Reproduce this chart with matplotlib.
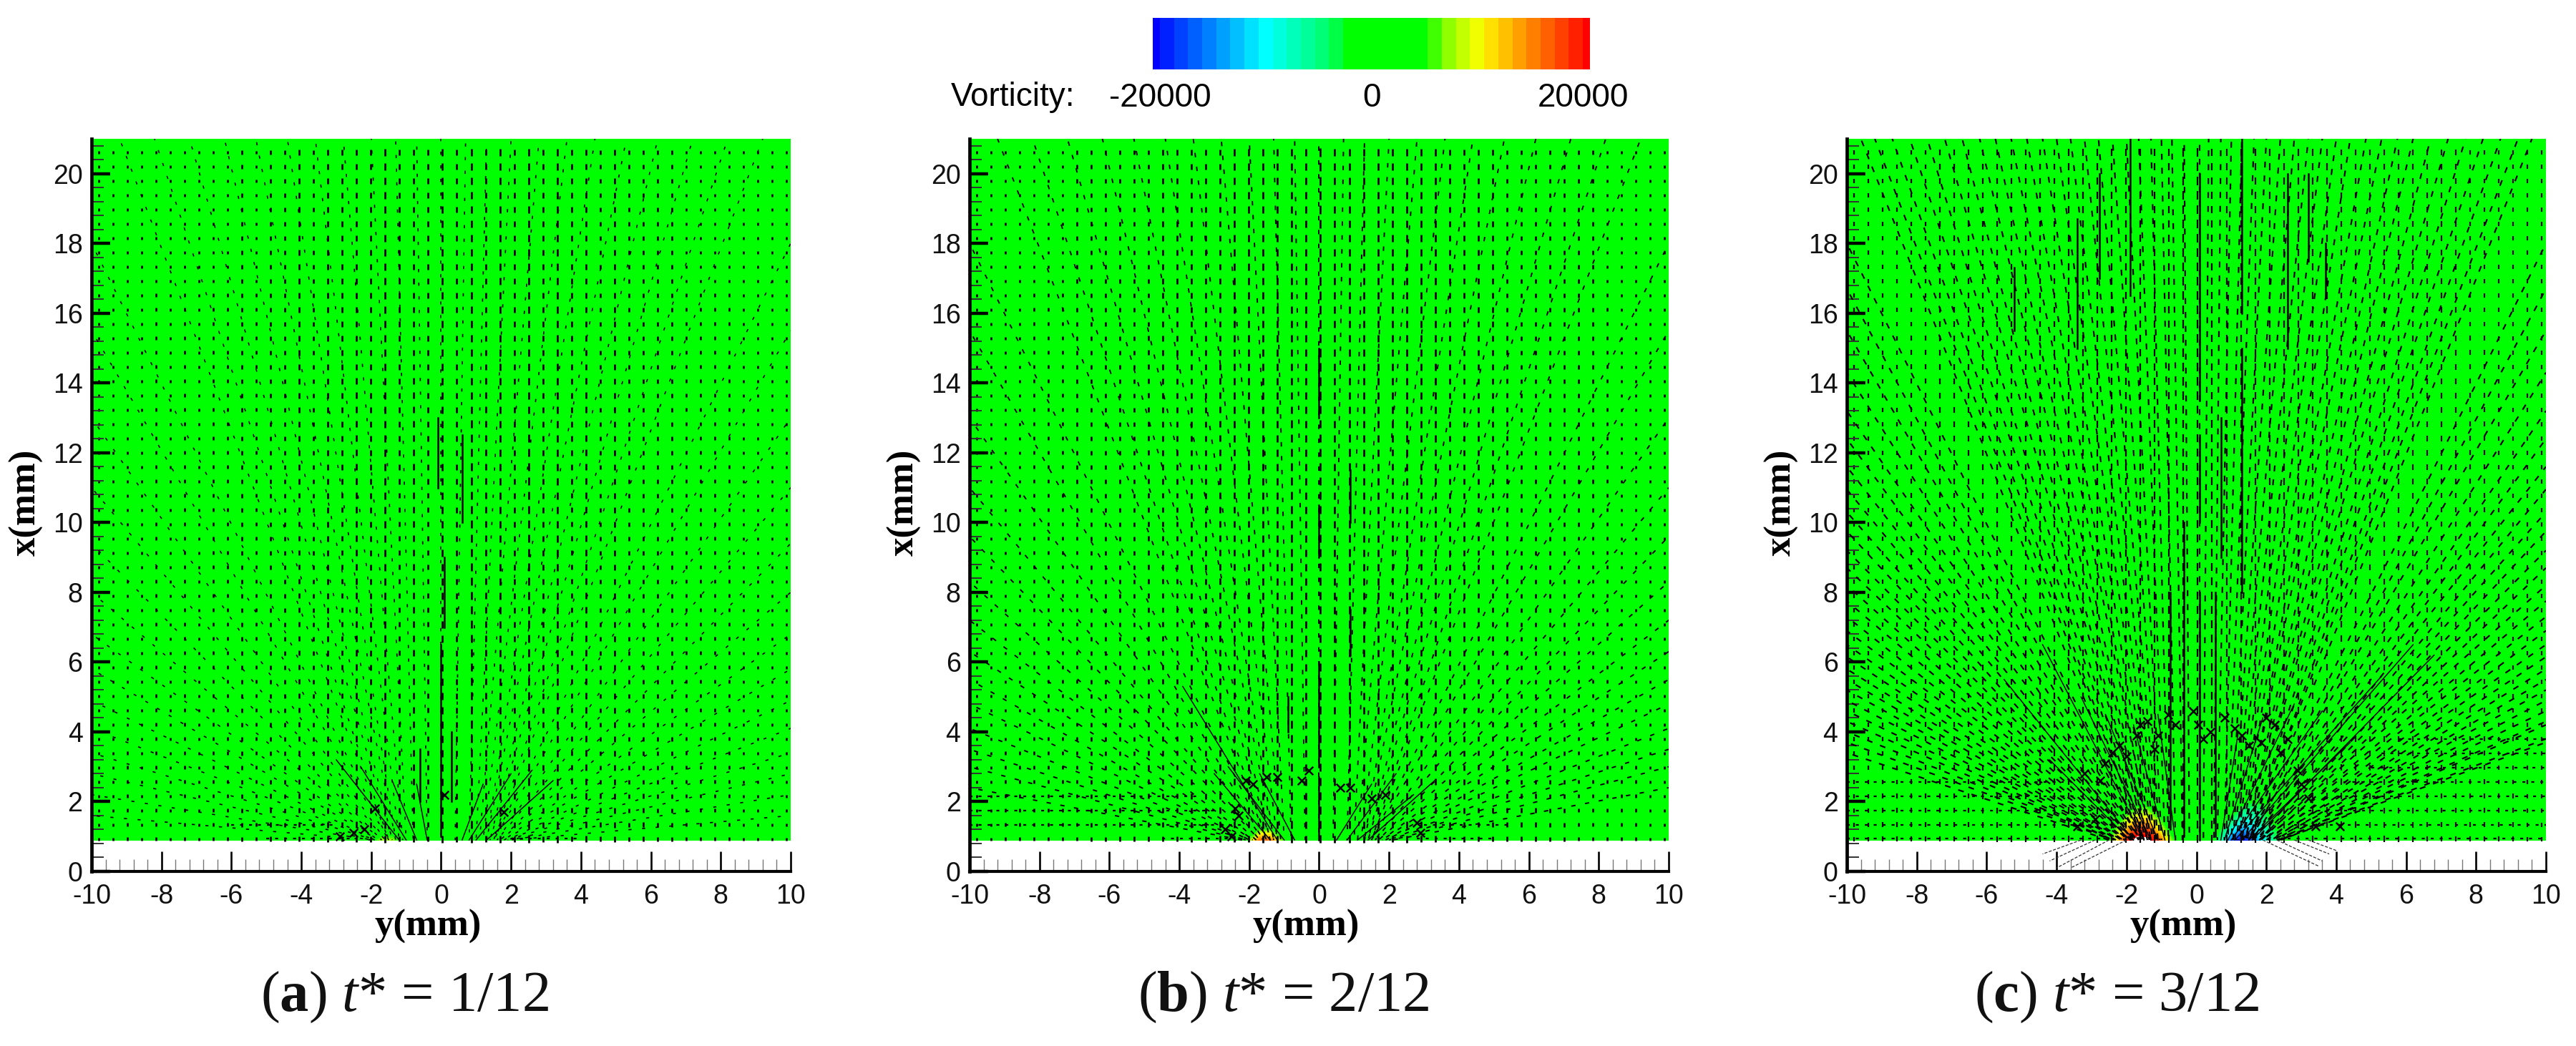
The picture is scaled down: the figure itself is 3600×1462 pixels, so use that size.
import numpy as np
import matplotlib
matplotlib.use("Agg")
import matplotlib.pyplot as plt
from matplotlib.colors import ListedColormap, BoundaryNorm

# ---------- colour scale ----------
band_edges = [-20667, -20000, -18667, -17333, -16000, -14667, -13333, -12000, -10667, -9333, -8000,
              -6667, -5333, -4000, -2667, 5333, 6667, 8000, 9333, 10667, 12000, 13333, 14667, 16000,
              17333, 18667, 20000, 20667]
band_colors = ["#0000ff", "#0020ff", "#0040ff", "#0060ff", "#0080ff", "#00a0ff", "#00c0ff", "#00e0ff",
               "#00ffff", "#00ffdd", "#00ffbb", "#00ff99", "#00ff77", "#00ff44", "#00ff00",
               "#40ff00", "#90ff00", "#c4ff00", "#f0ff00", "#ffe000", "#ffc000", "#ffa000", "#ff8000",
               "#ff6000", "#ff4000", "#ff2000", "#ff0000"]
legend_ticks = [-20000, 0, 20000]
legend_labels = ["-20000", "0", "20000"]

# ---------- axes ----------
y_major = [-10, -8, -6, -4, -2, 0, 2, 4, 6, 8, 10]
x_major = [0, 2, 4, 6, 8, 10, 12, 14, 16, 18, 20]
panel_names = ["a", "b", "c"]
panel_times = ["1/12", "2/12", "3/12"]

# ---------- vorticity read near the slot: rows x (mm), columns y (mm) ----------
vort_y = [-10, -2.6, -2.3, -2.0, -1.7, -1.4, -1.1, -0.8, -0.5, 0.4, 0.7, 1.0, 1.3, 1.6, 1.9, 2.2, 2.5, 10]
vort_x = [0.9, 1.2, 1.5, 1.8, 2.1, 21]
vort_a = [[0, 0, 0, 3000, 7500, 7500, 3000, 0, 0, 0, 0, 0, 0, 0, 0, 0, 0, 0],
          [0, 0, 0, 0, 0, 0, 0, 0, 0, 0, 0, 0, 0, 0, 0, 0, 0, 0],
          [0, 0, 0, 0, 0, 0, 0, 0, 0, 0, 0, 0, 0, 0, 0, 0, 0, 0],
          [0, 0, 0, 0, 0, 0, 0, 0, 0, 0, 0, 0, 0, 0, 0, 0, 0, 0],
          [0, 0, 0, 0, 0, 0, 0, 0, 0, 0, 0, 0, 0, 0, 0, 0, 0, 0],
          [0, 0, 0, 0, 0, 0, 0, 0, 0, 0, 0, 0, 0, 0, 0, 0, 0, 0]]
vort_b = [[0, 0, 0, 6000, 16000, 16000, 7000, 0, 0, 0, 0, 0, -1500, -2000, -1000, 0, 0, 0],
          [0, 0, 0, 2000, 5500, 5500, 2000, 0, 0, 0, 0, 0, 0, 0, 0, 0, 0, 0],
          [0, 0, 0, 0, 0, 0, 0, 0, 0, 0, 0, 0, 0, 0, 0, 0, 0, 0],
          [0, 0, 0, 0, 0, 0, 0, 0, 0, 0, 0, 0, 0, 0, 0, 0, 0, 0],
          [0, 0, 0, 0, 0, 0, 0, 0, 0, 0, 0, 0, 0, 0, 0, 0, 0, 0],
          [0, 0, 0, 0, 0, 0, 0, 0, 0, 0, 0, 0, 0, 0, 0, 0, 0, 0]]
vort_c = [[0, 2000, 10000, 19000, 22000, 22000, 18000, 9000, 1500, 0, -6000, -17000, -21000, -17000, -10000, -5500, -1500, 0],
          [0, 500, 6000, 13000, 18500, 18000, 11000, 4500, 500, 0, -2800, -9000, -14000, -12000, -8000, -3500, -500, 0],
          [0, 0, 1500, 7500, 11000, 11000, 6500, 1500, 0, 0, -500, -3500, -8000, -8000, -4500, -1500, 0, 0],
          [0, 0, 0, 2500, 5800, 5800, 2500, 0, 0, 0, 0, -500, -3500, -5000, -3500, -500, 0, 0],
          [0, 0, 0, 0, 1000, 1000, 0, 0, 0, 0, 0, 0, 0, -1000, -1000, 0, 0, 0],
          [0, 0, 0, 0, 0, 0, 0, 0, 0, 0, 0, 0, 0, 0, 0, 0, 0, 0]]

# ---------- vector length on the measurement lattice, per column (mm), y = -9.8 ... 9.9 ----------
a_col_len = [.08, .08, .09, .08, .10, .08, .10, .08, .10, .10, .12, .10, .13, .12, .15, .13, .16, .15,
             .18, .16, .20, .15, .18, .15, .20, .16, .22, .18, .20, .16, .22, .16, .20, .15, .18, .13,
             .16, .12, .13, .12, .12, .10, .10, .10, .10, .08, .08, .08, .08]
b_col_len = [.08, .08, .09, .09, .10, .10, .10, .11, .12, .12, .13, .13, .14, .15, .15, .16, .16, .18,
             .19, .19, .20, .21, .22, .21, .23, .21, .22, .21, .21, .19, .20, .19, .19, .16, .16, .15,
             .15, .14, .13, .13, .12, .12, .11, .11, .10, .09, .09, .08, .08]
c_col_len = [.12, .12, .13, .13, .14, .14, .15, .15, .15, .16, .16, .17, .17, .18, .18, .19, .19, .20,
             .20, .21, .21, .22, .22, .23, .23, .22, .22, .22, .21, .21, .20, .20, .19, .19, .18, .18,
             .17, .17, .16, .16, .15, .15, .15, .14, .14, .13, .13, .12, .12]

# ---------- rays of aligned vectors: slot position, end y, end x (mm) ----------
a_ray_base = [-2.0, -2.0, -2.0, -1.9, -1.9, -1.9, -1.8, -1.8, -1.7, -1.7, -1.6, -1.6, -1.5, -1.5,
              -1.5, -1.5, -1.4, -1.4, -1.3, -1.3, -1.2, -1.1, -1.0, -0.8, -0.4, 0, 0.4, 0.8, 1.0, 1.1,
              1.2, 1.3, 1.3, 1.4, 1.4, 1.5, 1.5,
              1.5, 1.5, 1.6, 1.6, 1.7, 1.7, 1.8, 1.8, 1.9, 1.9, 1.9, 2.0, 2.0, 2.0]
a_ray_end_y = [-10, -10, -10, -10, -10, -10, -10, -10, -10, -10, -10, -10, -10, -10,
               -9.2, -8.2, -7.2, -6.2, -5.3, -4.4, -3.6, -2.8, -2.0, -1.3, -0.7, 0, 0.7, 1.3, 2.0, 2.8,
               3.6, 4.4, 5.3, 6.2, 7.2, 8.2, 9.2,
               10, 10, 10, 10, 10, 10, 10, 10, 10, 10, 10, 10, 10, 10]
a_ray_end_x = [1.6, 2.2, 2.8, 3.4, 4.1, 4.9, 5.8, 6.8, 8, 9.4, 11, 13, 15.5, 18,
               21, 21, 21, 21, 21, 21, 21, 21, 21, 21, 21, 21, 21, 21, 21, 21,
               21, 21, 21, 21, 21, 21, 21,
               18, 15.5, 13, 11, 9.4, 8, 6.8, 5.8, 4.9, 4.1, 3.4, 2.8, 2.2, 1.6]

b_ray_base = [-2.2, -2.2, -2.1, -2.1, -2.0, -2.0, -1.9, -1.9, -1.8, -1.7, -1.7, -1.6, -1.6, -1.5,
              -1.5, -1.5, -1.4, -1.4, -1.3, -1.3, -1.2, -1.1, -1.0, -0.8, -0.4, 0, 0.4, 0.8, 1.0, 1.1,
              1.2, 1.3, 1.3, 1.4, 1.4, 1.5, 1.5,
              1.5, 1.5, 1.6, 1.6, 1.7, 1.7, 1.8, 1.8, 1.9, 1.9, 2.0, 2.0, 2.1, 2.1]
b_ray_end_y = [-10, -10, -10, -10, -10, -10, -10, -10, -10, -10, -10, -10, -10, -10,
               -9.2, -8.2, -7.2, -6.2, -5.3, -4.4, -3.6, -2.8, -2.0, -1.3, -0.7, 0, 0.7, 1.3, 2.0, 2.8,
               3.6, 4.4, 5.3, 6.2, 7.2, 8.2, 9.2,
               10, 10, 10, 10, 10, 10, 10, 10, 10, 10, 10, 10, 10, 10]
b_ray_end_x = [2.4, 3.0, 3.5, 4.1, 4.8, 5.5, 6.3, 7.2, 8.3, 9.6, 11, 13, 15.5, 18,
               21, 21, 21, 21, 21, 21, 21, 21, 21, 21, 21, 21, 21, 21, 21, 21,
               21, 21, 21, 21, 21, 21, 21,
               18, 15.5, 13, 11, 9.6, 8.3, 7.2, 6.3, 5.5, 4.8, 4.1, 3.5, 3.0, 2.4]

c_ray_base = [-2.5, -2.4, -2.4, -2.3, -2.2, -2.1, -2.0, -1.9, -1.8, -1.8, -1.7, -1.6, -1.6, -1.5,
              -1.5, -1.5, -1.4, -1.4, -1.3, -1.3, -1.2, -1.1, -1.0, -0.8, -0.4, 0.1, 0.5, 0.8, 1.0, 1.1,
              1.2, 1.3, 1.3, 1.4, 1.4, 1.5, 1.5,
              1.5, 1.5, 1.6, 1.6, 1.7, 1.8, 1.8, 1.9, 2.0, 2.1, 2.2, 2.3, 2.4, 2.4,
              -1.6, -1.55, -1.5, -1.45, -1.4, -1.35, -1.25, -1.15, -1.05, -0.9, -0.6, -0.2,
              0.2, 0.6, 0.9, 1.05, 1.15, 1.25, 1.35, 1.4, 1.45, 1.5, 1.55, 1.6,
              -2.4, -2.4, -2.35, -2.25, -2.15, -2.05, -1.95, -1.85, -1.8, -1.75, -1.65, -1.6, -1.55,
              2.4, 2.4, 2.35, 2.25, 2.15, 2.05, 1.95, 1.85, 1.8, 1.75, 1.65, 1.6, 1.55]
c_ray_end_y = [-10, -10, -10, -10, -10, -10, -10, -10, -10, -10, -10, -10, -10, -10,
               -9.2, -8.2, -7.2, -6.2, -5.3, -4.4, -3.6, -2.8, -2.0, -1.3, -0.7, 0.1, 0.7, 1.3, 2.0, 2.8,
               3.6, 4.4, 5.3, 6.2, 7.2, 8.2, 9.2,
               10, 10, 10, 10, 10, 10, 10, 10, 10, 10, 10, 10, 10, 10,
               -9.6, -8.7, -7.7, -6.7, -5.75, -4.85, -4.0, -3.2, -2.4, -1.65, -1.0, -0.35,
               0.35, 1.0, 1.65, 2.4, 3.2, 4.0, 4.85, 5.75, 6.7, 7.7, 8.7, 9.6,
               -10, -10, -10, -10, -10, -10, -10, -10, -10, -10, -10, -10, -10,
               10, 10, 10, 10, 10, 10, 10, 10, 10, 10, 10, 10, 10]
c_ray_end_x = [3.4, 4.0, 4.6, 5.2, 5.8, 6.5, 7.3, 8.2, 9.2, 10.3, 11.6, 13.2, 15.5, 18,
               21, 21, 21, 21, 21, 21, 21, 21, 21, 21, 21, 21, 21, 21, 21, 21,
               21, 21, 21, 21, 21, 21, 21,
               18, 15.5, 13.2, 11.6, 10.3, 9.2, 8.2, 7.3, 6.5, 5.8, 5.2, 4.6, 4.2, 3.8,
               21, 21, 21, 21, 21, 21, 21, 21, 21, 21, 21, 21,
               21, 21, 21, 21, 21, 21, 21, 21, 21, 21, 21, 21,
               3.7, 4.3, 4.9, 5.5, 6.15, 6.9, 7.75, 8.7, 9.75, 10.95, 12.4, 14.3, 16.7,
               3.7, 4.3, 4.9, 5.5, 6.15, 6.9, 7.75, 8.7, 9.75, 10.95, 12.4, 14.3, 16.7]

# ---------- solid near-slot rays: slot position, end y, end x (mm) ----------
a_solid_base = [-1.2, -1.0, -0.7, -0.4, 1.0, 0.8, 0.6, 1.3]
a_solid_end_y = [-3.0, -2.3, -1.4, -0.7, 2.6, 2.0, 1.2, 3.2]
a_solid_end_x = [3.2, 3.0, 2.6, 2.5, 2.9, 2.8, 2.5, 2.6]

b_solid_base = [-1.2, -1.0, -0.7, -1.4, 1.1, 0.8, 0.5, 1.4]
b_solid_end_y = [-3.9, -2.6, -1.7, -3.0, 2.7, 2.2, 1.5, 3.3]
b_solid_end_x = [5.3, 3.0, 2.8, 2.8, 2.2, 2.8, 2.5, 2.6]

c_solid_base = [-1.8, -1.5, -1.9, -1.3, -1.1, -0.9, -0.6, 1.1, 1.3, 1.5, 1.0, 0.9, 0.8, 0.7, 1.6]
c_solid_end_y = [-5.5, -4.4, -4.2, -3.3, -2.6, -1.8, -1.1, 5.3, 6.2, 4.4, 3.6, 2.8, 1.9, 1.2, 6.8]
c_solid_end_x = [5.5, 6.5, 3.2, 5.0, 4.5, 4.2, 4.5, 5.6, 6.5, 3.7, 4.6, 4.8, 4.4, 4.0, 6.2]

# ---------- long vertical streaks: y, x start, x end (mm) ----------
a_seg_y = [0, 0.1, 0.6, -0.6, 0.3, -0.1]
a_seg_x0 = [1.0, 7.0, 10.0, 2.0, 2.0, 11.0]
a_seg_x1 = [6.5, 9.0, 12.5, 3.5, 4.0, 13.0]

b_seg_y = [0, 0, 0.9, 0, -0.9, 0.9, 0.0]
b_seg_x0 = [0.9, 3.0, 6.2, 9.0, 4.0, 10.0, 13.0]
b_seg_x1 = [2.7, 6.0, 7.5, 10.5, 5.0, 11.5, 15.0]

c_seg_y = [0.1, 1.3, 1.3, 0.1, 0.1, -2.77, -5.2, -1.9, -3.4, 0.7, 2.6, 3.2, 3.7, -0.75, -0.35, 0.55]
c_seg_x0 = [0.9, 16.0, 8.0, 13.5, 10.0, 17.0, 15.5, 16.5, 15.0, 9.0, 15.0, 17.5, 16.5, 1.2, 1.0, 1.0]
c_seg_x1 = [8.0, 21.0, 15.0, 20.0, 12.5, 20.0, 17.3, 21.0, 18.7, 13.0, 20.0, 20.0, 18.0, 8.0, 10.0, 8.0]

# ---------- near-horizontal rows: x, y start, y end (mm) ----------
a_row_x = [0.94, 1.33, 0.94]
a_row_y0 = [-5.0, -6.0, 2.0]
a_row_y1 = [-2.5, -3.0, 4.0]

b_row_x = [1.33, 1.74, 2.15, 1.33, 0.94, 0.94]
b_row_y0 = [-10, -10, -10, 3.0, -4.5, 2.8]
b_row_y1 = [-2.2, -3.0, -3.5, 5.5, -2.5, 5.0]

c_row_x = [1.33, 1.74, 2.15, 2.56, 2.97, 3.38, 3.79, 1.33, 1.74, 2.15, 2.56, 0.94, 0.94]
c_row_y0 = [2.8, 3.2, 4.0, 4.2, 5.0, 5.3, 5.8, -10, -10, -10, -10, -10, 2.6]
c_row_y1 = [10, 10, 10, 10, 10, 10, 10, -2.8, -3.0, -3.5, -3.8, -2.5, 10]

# ---------- tangled clusters: y, x (mm) ----------
a_knot_y = [-2.5, -2.9, -2.2, 0.1, 1.8, -1.9]
a_knot_x = [1.1, 1.0, 1.2, 2.2, 1.7, 1.8]
b_knot_y = [-2.4, -2.3, -2.1, -1.9, -1.5, -1.2, -0.5, -0.3, 0.6, 0.9, 1.5, 1.9, 2.8, 2.9, -2.7, -2.5]
b_knot_x = [1.8, 1.6, 2.6, 2.5, 2.7, 2.7, 2.6, 2.9, 2.4, 2.4, 2.1, 2.2, 1.4, 1.1, 1.2, 1.0]
c_knot_y = [-3.2, -2.75, -2.4, -1.7, -0.6, 0.05, 1.1, 2.25, 1.85, 2.9, -3.4, -2.2, -1.4, -1.1, 0.4, 0.8, 1.5,
            2.6, 3.0, 3.4, 4.1, -2.9, 3.2, -2.0, -1.6, -0.8, -0.1, 0.2, 1.3, 2.0, 2.4, -1.2, -2.6]
c_knot_x = [2.8, 2.6, 3.4, 3.9, 4.2, 4.2, 4.1, 4.2, 3.7, 2.9, 1.3, 3.6, 4.3, 3.9, 4.0, 4.4, 3.6,
            3.8, 2.5, 1.3, 1.3, 1.5, 2.1, 3.3, 4.2, 4.5, 4.6, 3.8, 3.9, 4.4, 3.4, 3.5, 3.1]

# ---------- lines crossing the white gap: y start, y end, x end (x start is the slot edge) ----------
c_gap_y0 = [-2.0, -2.5, -2.9, -3.3, 1.9, 2.3, 2.8, 3.2]
c_gap_y1 = [-3.6, -4.0, -4.2, -4.4, 3.5, 3.6, 3.8, 4.0]
c_gap_x1 = [0.1, 0.1, 0.3, 0.5, 0.15, 0.3, 0.5, 0.6]

PANELS = [
    dict(vort=vort_a, base=a_ray_base, ey=a_ray_end_y, ex=a_ray_end_x, sb=a_solid_base, sy=a_solid_end_y,
         sx=a_solid_end_x, gy=a_seg_y, g0=a_seg_x0, g1=a_seg_x1, rx=a_row_x, r0=a_row_y0, r1=a_row_y1,
         ky=a_knot_y, kx=a_knot_x, cl=a_col_len, lw=1.2, dash=(3.2, 10.5), gx=128, cap=565, llw=2.0),
    dict(vort=vort_b, base=b_ray_base, ey=b_ray_end_y, ex=b_ray_end_x, sb=b_solid_base, sy=b_solid_end_y,
         sx=b_solid_end_x, gy=b_seg_y, g0=b_seg_x0, g1=b_seg_x1, rx=b_row_x, r0=b_row_y0, r1=b_row_y1,
         ky=b_knot_y, kx=b_knot_x, cl=b_col_len, lw=1.4, dash=(4.5, 9.5), gx=1355, cap=1794, llw=2.0),
    dict(vort=vort_c, base=c_ray_base, ey=c_ray_end_y, ex=c_ray_end_x, sb=c_solid_base, sy=c_solid_end_y,
         sx=c_solid_end_x, gy=c_seg_y, g0=c_seg_x0, g1=c_seg_x1, rx=c_row_x, r0=c_row_y0, r1=c_row_y1,
         ky=c_knot_y, kx=c_knot_x, cl=c_col_len, lw=1.6, dash=(6.0, 8.0), gx=2581, cap=2958, llw=1.6),
]

# ---------- drawing ----------
W, H = 3600, 1462
plt.rcParams["axes.unicode_minus"] = False
plt.rcParams["lines.scale_dashes"] = False
plt.rcParams["mathtext.fontset"] = "custom"
plt.rcParams["mathtext.rm"] = "Liberation Serif"
plt.rcParams["mathtext.it"] = "Liberation Serif:italic"
plt.rcParams["mathtext.bf"] = "Liberation Serif:bold"
SANS = "Liberation Sans"
SERIF = "Liberation Serif"

fig = plt.figure(figsize=(W / 100, H / 100), dpi=100, facecolor="white")
cmap = ListedColormap(band_colors)
norm = BoundaryNorm(band_edges, cmap.N)

lat_y = np.arange(-9.8, 10.0, 0.41)
lat_x = np.arange(0.93, 21.0, 0.41)

PW, PH = 977, 1024
PX_PER_MM = PW / 20.0
for p, name, tm in zip(PANELS, panel_names, panel_times):
    ax = fig.add_axes([p["gx"] / W, (H - 1218) / H, PW / W, PH / H])
    ax.set_xlim(-10, 10)
    ax.set_ylim(0, 21)
    ax.contourf(vort_y, vort_x, np.array(p["vort"], float), levels=band_edges, cmap=cmap, norm=norm,
                zorder=1, antialiased=False)
    # lattice vectors: vertical ticks whose length is read per column
    LY, LX = np.meshgrid(lat_y, lat_x)
    LEN = np.tile(np.array(p["cl"]), (len(lat_x), 1))
    sizes = (LEN * PX_PER_MM * 0.72) ** 2
    ax.scatter(LY.ravel(), LX.ravel(), s=sizes.ravel(), marker="|", c="black",
               linewidths=p["llw"], zorder=2)
    # aligned vectors: the dash phase is staggered so that neighbours do not line up across rays
    period = sum(p["dash"])
    for i, (b, ey, ex) in enumerate(zip(p["base"], p["ey"], p["ex"])):
        ax.plot([b, ey], [0.9, ex], color="black", lw=p["lw"],
                linestyle=((i * 5.3) % period, p["dash"]), zorder=3)
    for x, y0, y1 in zip(p["rx"], p["r0"], p["r1"]):
        ax.plot([y0, y1], [x, x], color="black", lw=1.6, dashes=(3.0, 6.0), zorder=3)
    for b, ey, ex in zip(p["sb"], p["sy"], p["sx"]):
        ax.plot([b, ey], [0.9, ex], color="black", lw=1.1, zorder=3)
    for y, x0, x1 in zip(p["gy"], p["g0"], p["g1"]):
        ax.plot([y, y], [x0, x1], color="black", lw=1.8, zorder=3)
    ax.scatter(p["ky"], p["kx"], marker="x", s=70, c="black", linewidths=1.8, zorder=3)

    # axes furniture
    for side in ("top", "right"):
        ax.spines[side].set_visible(False)
    ax.spines["left"].set_linewidth(3.4)
    ax.spines["bottom"].set_linewidth(3.0)
    ax.set_xticks(y_major)
    ax.set_yticks(x_major)
    ax.set_xticks(np.arange(-10, 10.01, 0.4), minor=True)
    ax.set_yticks(np.arange(0, 21.01, 0.4), minor=True)
    ax.tick_params(axis="x", which="major", direction="in", length=20, width=1.9, pad=12)
    ax.tick_params(axis="y", which="major", direction="in", length=19, width=3.2, pad=9)
    ax.tick_params(axis="x", which="minor", direction="in", length=12, width=1.0, color="#777777")
    ax.tick_params(axis="y", which="minor", direction="in", length=12, width=1.4, color="#333333")
    for lab in ax.get_xticklabels() + ax.get_yticklabels():
        lab.set_family(SANS)
        lab.set_fontsize(27)
        lab.set_color("#111111")
    for sp in ax.spines.values():
        sp.set_zorder(6)
    ax.set_axisbelow(False)

    cx = p["gx"] + PW / 2
    fig.text((cx - 18) / W, (H - 1295) / H, "y(mm)", family=SERIF, weight="bold", fontsize=38,
             ha="center", va="center")
    fig.text((p["gx"] - 91) / W, (H - 702) / H, "x(mm)", family=SERIF, weight="bold", fontsize=38,
             rotation=90, ha="center", va="center")
    fig.text(p["cap"] / W, (H - 1394) / H, f"($\\mathbf{{{name}}}$) $\\mathit{{t}}$* = {tm}",
             family=SERIF, fontsize=58, ha="center", va="center", color="#111111")

    if name == "c":
        for y0, y1, x1 in zip(c_gap_y0, c_gap_y1, c_gap_x1):
            ax.plot([y0, y1], [0.9, x1], color="#333333", lw=0.9, dashes=(3, 1.5), zorder=3)

# legend
cax = fig.add_axes([1611 / W, (H - 97) / H, 611 / W, 72 / H])
cax.pcolormesh(band_edges, [0, 1], np.array([[(a + b) / 2 for a, b in zip(band_edges[:-1], band_edges[1:])]]),
               cmap=cmap, norm=norm)
cax.set_xlim(band_edges[0], band_edges[-1])
cax.set_yticks([])
cax.set_xticks(legend_ticks, legend_labels, family=SANS, fontsize=33)
cax.tick_params(axis="x", length=0, pad=13)
for sp in cax.spines.values():
    sp.set_visible(False)
fig.text(1329 / W, (H - 136) / H, "Vorticity:", family=SANS, fontsize=33, ha="left", va="center")

fig.savefig("out.png", dpi=100, facecolor="white")
